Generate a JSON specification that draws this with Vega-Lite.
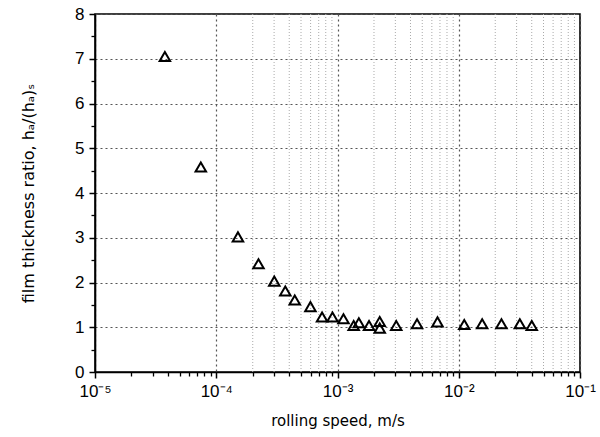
{
  "$schema": "https://vega.github.io/schema/vega-lite/v6.json",
  "width": 485,
  "height": 358,
  "autosize": {"type": "none"},
  "padding": {"left": 95, "top": 14, "right": 20, "bottom": 65},
  "background": "white",
  "config": {
    "font": "Liberation Sans",
    "view": {"stroke": "black", "strokeWidth": 1.6},
    "axis": {"labelFont": "Liberation Sans", "titleFont": "DejaVu Sans", "labelColor": "black", "titleColor": "black", "domainColor": "black", "tickColor": "black", "titleFontWeight": "normal"}
  },
  "datasets": {
    "pts": [
      {"speed": 3.77e-5, "ratio": 7.05},
      {"speed": 7.46e-5, "ratio": 4.58},
      {"speed": 1.51e-4, "ratio": 3.02},
      {"speed": 2.23e-4, "ratio": 2.42},
      {"speed": 3.01e-4, "ratio": 2.03},
      {"speed": 3.71e-4, "ratio": 1.81},
      {"speed": 4.44e-4, "ratio": 1.61},
      {"speed": 5.98e-4, "ratio": 1.46},
      {"speed": 7.46e-4, "ratio": 1.23},
      {"speed": 9.09e-4, "ratio": 1.23},
      {"speed": 1.12e-3, "ratio": 1.19},
      {"speed": 1.36e-3, "ratio": 1.04},
      {"speed": 1.50e-3, "ratio": 1.10},
      {"speed": 1.82e-3, "ratio": 1.04},
      {"speed": 2.23e-3, "ratio": 1.13},
      {"speed": 2.23e-3, "ratio": 0.98},
      {"speed": 3.05e-3, "ratio": 1.04},
      {"speed": 4.53e-3, "ratio": 1.08},
      {"speed": 6.68e-3, "ratio": 1.12},
      {"speed": 1.11e-2, "ratio": 1.06},
      {"speed": 1.56e-2, "ratio": 1.08},
      {"speed": 2.25e-2, "ratio": 1.08},
      {"speed": 3.19e-2, "ratio": 1.08},
      {"speed": 4.00e-2, "ratio": 1.04}
    ],
    "minorgrid": [
      {"v": 2e-4}, {"v": 3e-4}, {"v": 4e-4}, {"v": 5e-4}, {"v": 6e-4}, {"v": 7e-4}, {"v": 8e-4}, {"v": 9e-4},
      {"v": 2e-3}, {"v": 3e-3}, {"v": 4e-3}, {"v": 5e-3}, {"v": 6e-3}, {"v": 7e-3}, {"v": 8e-3}, {"v": 9e-3},
      {"v": 2e-2}, {"v": 3e-2}, {"v": 4e-2}, {"v": 5e-2}, {"v": 6e-2}, {"v": 7e-2}, {"v": 8e-2}, {"v": 9e-2}
    ]
  },
  "layer": [
    {
      "data": {"name": "minorgrid"},
      "mark": {"type": "rule", "color": "#aaaaaa", "strokeWidth": 1, "strokeDash": [1, 2]},
      "encoding": {
        "x": {
          "field": "v", "type": "quantitative",
          "scale": {"type": "log", "domain": [1e-5, 0.1], "nice": false},
          "axis": {
            "values": [2e-5, 3e-5, 4e-5, 5e-5, 6e-5, 7e-5, 8e-5, 9e-5, 2e-4, 3e-4, 4e-4, 5e-4, 6e-4, 7e-4, 8e-4, 9e-4, 2e-3, 3e-3, 4e-3, 5e-3, 6e-3, 7e-3, 8e-3, 9e-3, 2e-2, 3e-2, 4e-2, 5e-2, 6e-2, 7e-2, 8e-2, 9e-2],
            "labels": false, "grid": false, "domain": false, "tickSize": 4, "tickWidth": 1.3, "title": null, "orient": "bottom"
          }
        }
      }
    },
    {
      "data": {"name": "pts"},
      "mark": {"type": "point", "opacity": 0},
      "encoding": {
        "x": {"field": "speed", "type": "quantitative", "axis": null},
        "y": {
          "field": "ratio", "type": "quantitative",
          "scale": {"domain": [0, 8], "nice": false},
          "axis": {"values": [0.5, 1.5, 2.5, 3.5, 4.5, 5.5, 6.5, 7.5], "labels": false, "grid": false, "domain": false, "tickSize": 4, "tickWidth": 1.3, "title": null, "orient": "left"}
        }
      }
    },
    {
      "data": {"name": "pts"},
      "mark": {"type": "point", "shape": "triangle-up", "filled": false, "stroke": "black", "strokeWidth": 2, "size": 110, "opacity": 1},
      "encoding": {
        "x": {
          "field": "speed", "type": "quantitative",
          "axis": {
            "values": [1e-5, 1e-4, 1e-3, 1e-2, 1e-1],
            "labelExpr": "datum.value < 5e-5 ? '10⁻⁵' : datum.value < 5e-4 ? '10⁻⁴' : datum.value < 5e-3 ? '10⁻³' : datum.value < 5e-2 ? '10⁻²' : '10⁻¹'",
            "labelFontSize": 17, "labelPadding": 5, "labelFlush": false,
            "grid": true, "gridColor": "#555555", "gridDash": [2, 3], "gridWidth": 1.2,
            "tickSize": 6, "tickWidth": 1.5, "domainWidth": 1.6,
            "title": "rolling speed, m/s", "titleFontSize": 15, "titlePadding": 14, "orient": "bottom"
          }
        },
        "y": {
          "field": "ratio", "type": "quantitative",
          "axis": {
            "values": [0, 1, 2, 3, 4, 5, 6, 7, 8],
            "labelFontSize": 17, "labelPadding": 5,
            "grid": true, "gridColor": "#555555", "gridDash": [2, 3], "gridWidth": 1.2,
            "tickSize": 6, "tickWidth": 1.5, "domainWidth": 1.6,
            "title": "film thickness ratio, hₐ/(hₐ)ₛ", "titleFontSize": 16, "titlePadding": 38, "orient": "left"
          }
        }
      }
    }
  ],
  "resolve": {"axis": {"x": "independent", "y": "independent"}}
}
